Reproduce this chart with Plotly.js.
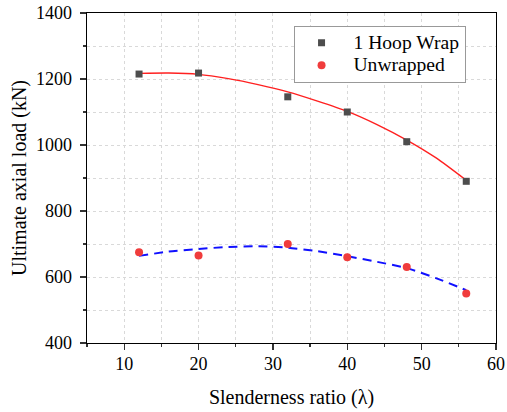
<!DOCTYPE html>
<html>
<head>
<meta charset="utf-8">
<script src="https://cdn.plot.ly/plotly-3.0.1.min.js"></script>
<style>html,body{margin:0;padding:0;background:#fff}#chart{width:507px;height:412px}</style>
</head>
<body>
<div id="chart"></div>
<script>
// Measured data
var slenderness = [12, 20, 32, 40, 48, 56];
var hoopWrap = [1215, 1218, 1146, 1100, 1010, 890];
var unwrapped = [675, 665, 700, 660, 630, 550];

// Fitted curves
var fitX = [12, 16, 20, 24, 28, 32, 36, 40, 44, 48, 52, 56];
var hoopFit = [1217, 1218, 1214, 1201, 1183, 1161, 1133, 1102, 1062, 1015, 960, 893];
var unwrappedFit = [664, 677, 685, 691, 693, 689, 678, 663, 646, 627, 596, 560];

var serif = "Liberation Serif";
function legName(s) { return '<span style="font-size:19.6px">\u00a0' + s + '</span>'; }

var traces = [
  {x: fitX, y: hoopFit, mode: 'lines', line: {color: '#ff2020', width: 1.4, shape: 'spline', smoothing: 0.6}, showlegend: false, hoverinfo: 'skip'},
  {x: fitX, y: unwrappedFit, mode: 'lines', line: {color: '#1010ff', width: 2, dash: '9px,6px', shape: 'spline', smoothing: 0.6}, showlegend: false, hoverinfo: 'skip'},
  {x: slenderness, y: hoopWrap, mode: 'markers', name: legName('1 Hoop Wrap'), marker: {symbol: 'square', size: 7, color: '#4d4d4d'}},
  {x: slenderness, y: unwrapped, mode: 'markers', name: legName('Unwrapped'), marker: {symbol: 'circle', size: 8, color: '#f03c3c'}}
];

function axis(extra) {
  var a = {
    showline: true, linecolor: '#000', linewidth: 1.3, mirror: true,
    ticks: 'outside', ticklen: 6, tickwidth: 1.3, tickcolor: '#333',
    showgrid: true, gridcolor: '#d9d9d9', griddash: 'dot', gridwidth: 1,
    zeroline: false,
    tickfont: {family: serif, size: 18, color: '#000'}
  };
  for (var k in extra) a[k] = extra[k];
  return a;
}

var layout = {
  width: 507, height: 412,
  font: {family: serif, size: 18, color: '#000'},
  margin: {l: 87, r: 11, t: 13, b: 69},
  paper_bgcolor: '#fff', plot_bgcolor: '#fff',
  showlegend: true,
  xaxis: axis({
    range: [5, 60], dtick: 10, tick0: 0, ticklabelstandoff: -2,
    minor: {dtick: 5, ticklen: 3, tickcolor: '#333', showgrid: true, gridcolor: '#d9d9d9', griddash: 'dot'},
    title: {text: 'Slenderness ratio (λ)', font: {family: serif, size: 20, color: '#000'}, standoff: 17}
  }),
  yaxis: axis({
    range: [400, 1400], dtick: 200, tick0: 0, ticklabelstandoff: 4,
    minor: {dtick: 100, ticklen: 3, tickcolor: '#333', showgrid: true, gridcolor: '#d9d9d9', griddash: 'dot'},
    title: {text: 'Ultimate axial load (kN)', font: {family: serif, size: 20, color: '#000'}, standoff: 4}
  }),
  legend: {
    x: 0.505, y: 0.962, xanchor: 'left', yanchor: 'top',
    bgcolor: '#fff', bordercolor: '#999', borderwidth: 1,
    font: {family: serif, size: 15, color: '#000'},
    itemwidth: 44, tracegroupgap: 0
  }
};

Plotly.newPlot('chart', traces, layout, {displayModeBar: false, staticPlot: true});
</script>
</body>
</html>
